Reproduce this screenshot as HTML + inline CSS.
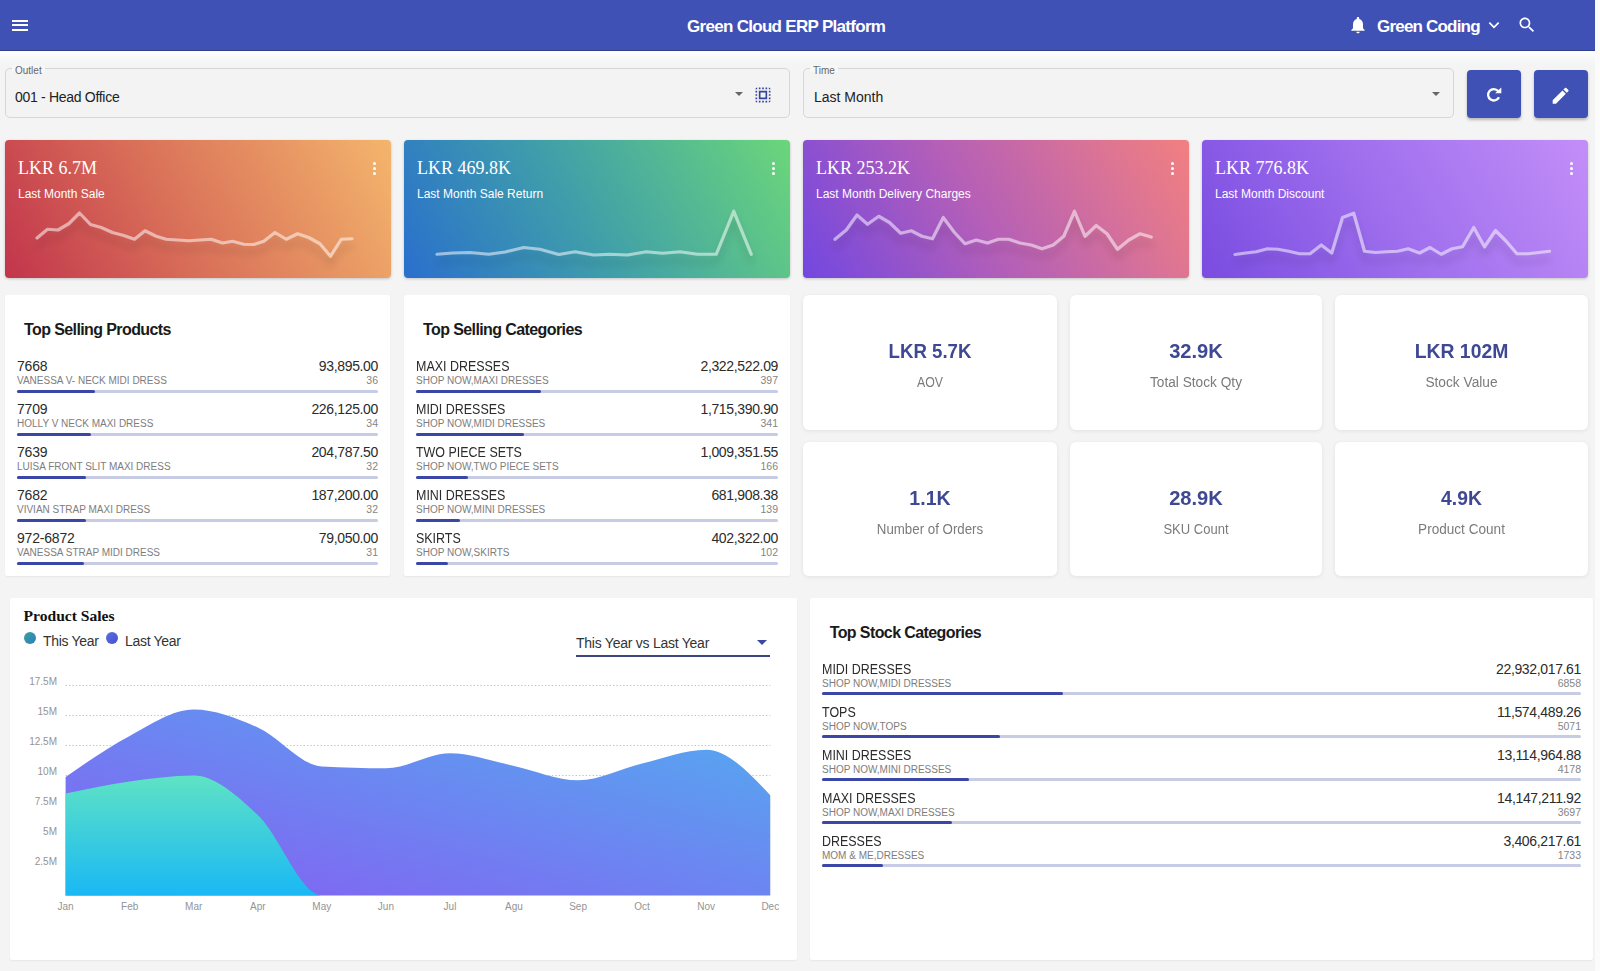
<!DOCTYPE html>
<html><head><meta charset="utf-8"><title>Green Cloud ERP Platform</title><style>
*{box-sizing:border-box;margin:0;padding:0}
html,body{width:1600px;height:971px;overflow:hidden;background:#f4f4f4;font-family:"Liberation Sans", sans-serif;}
.abs{position:absolute}
.hdr{left:0;top:0;width:1595px;height:51px;background:#3f51b5;box-shadow:inset 0 -1px 0 rgba(0,0,0,.22)}
.rstrip{left:1595px;top:0;width:5px;height:971px;background:#fbfbfb}
.field{background:#f3f3f3;border:1px solid #d6d6d6;border-radius:5px}
.flabel{font-size:10px;color:#666;background:linear-gradient(#f7f7f7 0 55%,#f3f3f3 55%);padding:0 3px}
.btn{background:#3f51b5;border-radius:4px;box-shadow:0 2px 3px rgba(0,0,0,.25)}
.gcard{border-radius:4px;box-shadow:0 1px 3px rgba(0,0,0,.2);overflow:hidden}
.gval{font-family:"Liberation Serif", serif;font-size:18px;color:#fff;white-space:nowrap}
.glab{font-size:12px;color:#fff;white-space:nowrap}
.panel{background:#fff;border-radius:2px;box-shadow:0 1px 2px rgba(0,0,0,.06)}
.scard{background:#fff;border-radius:6px;box-shadow:0 1px 4px rgba(0,0,0,.08)}
.sval{font-size:21px;font-weight:bold;color:#3f4892;white-space:nowrap;text-align:center}
.slab{font-size:14px;color:#7b7b7b;white-space:nowrap;text-align:center}
.ptitle{font-size:16px;font-weight:bold;color:#1a1a1a;white-space:nowrap;letter-spacing:-0.6px}
.rname{font-size:14px;color:#2b2b2b;white-space:nowrap;letter-spacing:-0.2px}
.rsub{font-size:10px;color:#7d7d7d;white-space:nowrap}
.rval{font-size:14px;color:#2b2b2b;white-space:nowrap;text-align:right;letter-spacing:-0.35px}
.rcnt{font-size:10.5px;color:#858585;white-space:nowrap;text-align:right}
.track{height:3px;background:#c7cbe3;border-radius:2px}
.fill{height:3px;background:#3a47a6;border-radius:2px}
</style></head>
<body>
<div class="abs" style="left:0;top:51px;width:1595px;height:14px;background:linear-gradient(#ffffff,#f9f9f9 40%,#f4f4f4)"></div>
<div class="abs hdr"></div>
<div class="abs rstrip"></div>
<div class="abs" style="left:12px;top:20px;width:16px;height:2px;background:#fff"></div>
<div class="abs" style="left:12px;top:24px;width:16px;height:2px;background:#fff"></div>
<div class="abs" style="left:12px;top:28.5px;width:16px;height:2px;background:#fff"></div>
<div class="abs" style="left:687px;top:16.5px;font-size:17px;font-weight:bold;color:#fff;letter-spacing:-0.7px;white-space:nowrap;line-height:20px">Green Cloud ERP Platform</div>
<svg class="abs" style="left:1348px;top:15px" width="20" height="20" viewBox="0 0 24 24"><path fill="#fff" d="M12 22c1.1 0 2-.9 2-2h-4c0 1.1.9 2 2 2zm6-6v-5c0-3.07-1.63-5.64-4.5-6.32V4c0-.83-.67-1.5-1.5-1.5s-1.5.67-1.5 1.5v.68C7.64 5.36 6 7.92 6 11v5l-2 2v1h16v-1l-2-2z"/></svg>
<div class="abs" style="left:1377px;top:16.5px;font-size:17px;font-weight:bold;color:#fff;letter-spacing:-0.8px;white-space:nowrap;line-height:20px">Green Coding</div>
<svg class="abs" style="left:1486px;top:17.3px" width="16" height="16" viewBox="0 0 24 24"><path fill="none" stroke="#fff" stroke-width="2.6" d="M5 8.5l7 7 7-7"/></svg>
<svg class="abs" style="left:1517px;top:15px" width="20" height="20" viewBox="0 0 24 24"><path fill="#fff" d="M15.5 14h-.79l-.28-.27C15.41 12.59 16 11.11 16 9.5 16 5.91 13.09 3 9.5 3S3 5.91 3 9.5 5.91 16 9.5 16c1.61 0 3.09-.59 4.23-1.57l.27.28v.79l5 4.99L20.49 19l-4.99-5zm-6 0C7.01 14 5 11.99 5 9.5S7.01 5 9.5 5 14 7.01 14 9.5 11.99 14 9.5 14z"/></svg>
<div class="abs field" style="left:5px;top:68px;width:785px;height:50px"></div>
<div class="abs flabel" style="left:12px;top:65px;line-height:12px">Outlet</div>
<div class="abs" style="left:15px;top:89px;font-size:14px;color:#222;letter-spacing:-0.3px;white-space:nowrap;line-height:17px">001 - Head Office</div>
<svg class="abs" style="left:735px;top:92px" width="8" height="4" viewBox="0 0 10 5"><path fill="#666" d="M0 0h10L5 5z"/></svg>
<svg class="abs" style="left:752.5px;top:84.5px" width="20" height="20" viewBox="0 0 24 24"><path fill="#34449f" d="M3 5h2V3c-1.1 0-2 .9-2 2zm0 8h2v-2H3v2zm4 8h2v-2H7v2zM3 9h2V7H3v2zm10-6h-2v2h2V3zm6 0v2h2c0-1.1-.9-2-2-2zM5 21v-2H3c0 1.1.9 2 2 2zm-2-4h2v-2H3v2zM9 3H7v2h2V3zm2 18h2v-2h-2v2zm8-8h2v-2h-2v2zm0 8c1.1 0 2-.9 2-2h-2v2zm0-12h2V7h-2v2zm0 8h2v-2h-2v2zm-4 4h2v-2h-2v2zm0-16h2V3h-2v2zM7 17h10V7H7v10zm2-8h6v6H9V9z"/></svg>
<div class="abs field" style="left:803px;top:68px;width:651px;height:50px"></div>
<div class="abs flabel" style="left:810px;top:65px;line-height:12px">Time</div>
<div class="abs" style="left:814px;top:89px;font-size:14px;color:#222;white-space:nowrap;line-height:17px">Last Month</div>
<svg class="abs" style="left:1432px;top:92px" width="8" height="4" viewBox="0 0 10 5"><path fill="#666" d="M0 0h10L5 5z"/></svg>
<div class="abs btn" style="left:1467px;top:70px;width:54px;height:48px"></div>
<svg class="abs" style="left:1480px;top:80px" width="30" height="30" viewBox="0 0 30 30"><path d="M18.17,11.09 A5.7,5.7 0 1 0 18.97,17.16" fill="none" stroke="#fff" stroke-width="2.3"/><path fill="#fff" d="M15.1,13.3 L21.3,13.3 L21.3,7.4 Z"/></svg>
<div class="abs btn" style="left:1534px;top:70px;width:54px;height:48px"></div>
<svg class="abs" style="left:1550.3px;top:84.6px" width="21.3" height="21.3" viewBox="0 0 24 24"><path fill="#fff" d="M3 17.25V21h3.75L17.81 9.94l-3.75-3.75L3 17.25zM20.71 7.04c.39-.39.39-1.02 0-1.41l-2.34-2.34c-.39-.39-1.02-.39-1.41 0l-1.83 1.83 3.75 3.75 1.83-1.83z"/></svg>
<div class="abs gcard" style="left:5px;top:140px;width:386px;height:138px;background:linear-gradient(62deg,#c2354c 0%,#d86e58 42%,#f4b56c 100%)"></div>
<div class="abs gval" style="left:18px;top:157px;line-height:22px">LKR 6.7M</div>
<div class="abs glab" style="left:18px;top:187px;line-height:15px">Last Month Sale</div>
<div class="abs" style="left:373px;top:162px;width:3px;height:3px;border-radius:50%;background:#fff"></div>
<div class="abs" style="left:373px;top:167px;width:3px;height:3px;border-radius:50%;background:#fff"></div>
<div class="abs" style="left:373px;top:172px;width:3px;height:3px;border-radius:50%;background:#fff"></div>
<div class="abs gcard" style="left:404px;top:140px;width:386px;height:138px;background:linear-gradient(60deg,#2a6fcd 0%,#3f9eaa 45%,#6bd67a 100%)"></div>
<div class="abs gval" style="left:417px;top:157px;line-height:22px">LKR 469.8K</div>
<div class="abs glab" style="left:417px;top:187px;line-height:15px">Last Month Sale Return</div>
<div class="abs" style="left:772px;top:162px;width:3px;height:3px;border-radius:50%;background:#fff"></div>
<div class="abs" style="left:772px;top:167px;width:3px;height:3px;border-radius:50%;background:#fff"></div>
<div class="abs" style="left:772px;top:172px;width:3px;height:3px;border-radius:50%;background:#fff"></div>
<div class="abs gcard" style="left:803px;top:140px;width:386px;height:138px;background:linear-gradient(60deg,#7247e0 0%,#b45fb8 45%,#f28080 100%)"></div>
<div class="abs gval" style="left:816px;top:157px;line-height:22px">LKR 253.2K</div>
<div class="abs glab" style="left:816px;top:187px;line-height:15px">Last Month Delivery Charges</div>
<div class="abs" style="left:1171px;top:162px;width:3px;height:3px;border-radius:50%;background:#fff"></div>
<div class="abs" style="left:1171px;top:167px;width:3px;height:3px;border-radius:50%;background:#fff"></div>
<div class="abs" style="left:1171px;top:172px;width:3px;height:3px;border-radius:50%;background:#fff"></div>
<div class="abs gcard" style="left:1202px;top:140px;width:386px;height:138px;background:linear-gradient(60deg,#7a4ce0 0%,#a070ee 50%,#c38ef8 100%)"></div>
<div class="abs gval" style="left:1215px;top:157px;line-height:22px">LKR 776.8K</div>
<div class="abs glab" style="left:1215px;top:187px;line-height:15px">Last Month Discount</div>
<div class="abs" style="left:1570px;top:162px;width:3px;height:3px;border-radius:50%;background:#fff"></div>
<div class="abs" style="left:1570px;top:167px;width:3px;height:3px;border-radius:50%;background:#fff"></div>
<div class="abs" style="left:1570px;top:172px;width:3px;height:3px;border-radius:50%;background:#fff"></div>
<svg class="abs" style="left:0;top:0" width="1600" height="300" viewBox="0 0 1600 300"><defs><filter id="sh" x="-10%" y="-50%" width="120%" height="250%"><feGaussianBlur in="SourceAlpha" stdDeviation="4"/><feOffset dy="8"/><feComponentTransfer><feFuncA type="linear" slope="0.32"/></feComponentTransfer><feMerge><feMergeNode/><feMergeNode in="SourceGraphic"/></feMerge></filter></defs><polyline points="37.00,238.00 47.50,229.25 58.00,230.00 68.75,223.75 79.50,213.00 90.50,224.50 101.25,227.50 112.50,232.50 123.75,235.50 134.50,239.25 145.00,230.75 156.25,236.25 166.25,239.25 177.50,240.00 188.75,240.75 200.00,240.00 211.25,239.25 222.50,243.00 232.50,241.25 243.75,244.25 253.75,244.50 263.75,241.25 275.00,232.50 286.25,239.25 297.50,233.75 308.75,237.50 320.00,243.75 330.50,256.25 341.25,239.25 352.00,238.75" fill="none" stroke="rgba(255,255,255,0.52)" stroke-width="3.2" stroke-linejoin="round" stroke-linecap="round" filter="url(#sh)"/><polyline points="437.00,254.25 452.50,253.00 470.00,252.50 488.75,254.25 505.00,252.00 523.75,247.50 540.00,249.25 558.75,254.50 575.00,251.75 593.75,255.00 610.00,254.25 627.50,255.00 646.25,251.75 662.50,253.25 680.00,251.75 697.50,254.25 716.25,254.25 733.75,211.25 751.25,254.25" fill="none" stroke="rgba(255,255,255,0.52)" stroke-width="3.2" stroke-linejoin="round" stroke-linecap="round" filter="url(#sh)"/><polyline points="835.00,239.25 846.25,230.00 857.00,215.00 867.50,224.25 878.75,216.25 889.50,222.50 900.75,233.25 911.25,230.75 922.00,236.25 932.50,238.75 943.25,217.50 954.50,232.50 965.00,243.75 976.25,240.00 987.50,243.00 998.25,239.25 1008.75,239.25 1020.00,243.00 1031.25,245.00 1042.00,248.75 1053.25,245.00 1063.75,236.25 1074.50,211.25 1085.00,236.25 1096.25,225.50 1107.00,233.75 1117.50,249.25 1128.75,240.00 1140.00,233.75 1151.25,237.00" fill="none" stroke="rgba(255,255,255,0.52)" stroke-width="3.2" stroke-linejoin="round" stroke-linecap="round" filter="url(#sh)"/><polyline points="1235.00,254.50 1245.75,253.00 1256.25,251.75 1267.50,248.75 1278.00,249.25 1288.75,251.25 1299.50,253.75 1310.00,253.75 1321.25,245.00 1331.75,253.00 1342.50,217.50 1353.75,213.25 1364.50,251.25 1375.50,252.50 1386.25,251.75 1397.50,251.25 1408.25,248.75 1419.50,253.00 1430.00,247.50 1441.25,254.25 1452.00,248.75 1462.50,246.75 1473.75,227.50 1484.50,246.75 1495.50,230.50 1506.25,241.25 1517.00,253.75 1528.00,253.75 1538.75,252.50 1549.50,251.25" fill="none" stroke="rgba(255,255,255,0.52)" stroke-width="3.2" stroke-linejoin="round" stroke-linecap="round" filter="url(#sh)"/></svg>
<div class="abs panel" style="left:5px;top:295px;width:385px;height:281px"></div>
<div class="abs ptitle" style="left:24px;top:320px;line-height:19px">Top Selling Products</div>
<div class="abs rname" style="left:17px;top:357.6px;line-height:16px;">7668</div>
<div class="abs rsub" style="left:17px;top:375.1px;line-height:12px">VANESSA V- NECK MIDI DRESS</div>
<div class="abs rval" style="right:1222px;top:357.6px;line-height:16px">93,895.00</div>
<div class="abs rcnt" style="right:1222px;top:374.20000000000005px;line-height:12px">36</div>
<div class="abs track" style="left:17px;top:389.8px;width:361px"></div>
<div class="abs fill" style="left:17px;top:389.8px;width:78.0px"></div>
<div class="abs rname" style="left:17px;top:400.6px;line-height:16px;">7709</div>
<div class="abs rsub" style="left:17px;top:418.1px;line-height:12px">HOLLY V NECK MAXI DRESS</div>
<div class="abs rval" style="right:1222px;top:400.6px;line-height:16px">226,125.00</div>
<div class="abs rcnt" style="right:1222px;top:417.20000000000005px;line-height:12px">34</div>
<div class="abs track" style="left:17px;top:432.8px;width:361px"></div>
<div class="abs fill" style="left:17px;top:432.8px;width:73.6px"></div>
<div class="abs rname" style="left:17px;top:443.6px;line-height:16px;">7639</div>
<div class="abs rsub" style="left:17px;top:461.1px;line-height:12px">LUISA FRONT SLIT MAXI DRESS</div>
<div class="abs rval" style="right:1222px;top:443.6px;line-height:16px">204,787.50</div>
<div class="abs rcnt" style="right:1222px;top:460.20000000000005px;line-height:12px">32</div>
<div class="abs track" style="left:17px;top:475.8px;width:361px"></div>
<div class="abs fill" style="left:17px;top:475.8px;width:69.3px"></div>
<div class="abs rname" style="left:17px;top:486.6px;line-height:16px;">7682</div>
<div class="abs rsub" style="left:17px;top:504.1px;line-height:12px">VIVIAN STRAP MAXI DRESS</div>
<div class="abs rval" style="right:1222px;top:486.6px;line-height:16px">187,200.00</div>
<div class="abs rcnt" style="right:1222px;top:503.20000000000005px;line-height:12px">32</div>
<div class="abs track" style="left:17px;top:518.8000000000001px;width:361px"></div>
<div class="abs fill" style="left:17px;top:518.8000000000001px;width:69.3px"></div>
<div class="abs rname" style="left:17px;top:529.6px;line-height:16px;">972-6872</div>
<div class="abs rsub" style="left:17px;top:547.1px;line-height:12px">VANESSA STRAP MIDI DRESS</div>
<div class="abs rval" style="right:1222px;top:529.6px;line-height:16px">79,050.00</div>
<div class="abs rcnt" style="right:1222px;top:546.2px;line-height:12px">31</div>
<div class="abs track" style="left:17px;top:561.8000000000001px;width:361px"></div>
<div class="abs fill" style="left:17px;top:561.8000000000001px;width:67.1px"></div>
<div class="abs panel" style="left:404px;top:295px;width:386px;height:281px"></div>
<div class="abs ptitle" style="left:423px;top:320px;line-height:19px">Top Selling Categories</div>
<div class="abs rname" style="left:416px;top:357.6px;line-height:16px;transform:scaleX(0.89);transform-origin:0 0;letter-spacing:0">MAXI DRESSES</div>
<div class="abs rsub" style="left:416px;top:375.1px;line-height:12px">SHOP NOW,MAXI DRESSES</div>
<div class="abs rval" style="right:822px;top:357.6px;line-height:16px">2,322,522.09</div>
<div class="abs rcnt" style="right:822px;top:374.20000000000005px;line-height:12px">397</div>
<div class="abs track" style="left:416px;top:389.8px;width:362px"></div>
<div class="abs fill" style="left:416px;top:389.8px;width:125.3px"></div>
<div class="abs rname" style="left:416px;top:400.6px;line-height:16px;transform:scaleX(0.89);transform-origin:0 0;letter-spacing:0">MIDI DRESSES</div>
<div class="abs rsub" style="left:416px;top:418.1px;line-height:12px">SHOP NOW,MIDI DRESSES</div>
<div class="abs rval" style="right:822px;top:400.6px;line-height:16px">1,715,390.90</div>
<div class="abs rcnt" style="right:822px;top:417.20000000000005px;line-height:12px">341</div>
<div class="abs track" style="left:416px;top:432.8px;width:362px"></div>
<div class="abs fill" style="left:416px;top:432.8px;width:107.5px"></div>
<div class="abs rname" style="left:416px;top:443.6px;line-height:16px;transform:scaleX(0.89);transform-origin:0 0;letter-spacing:0">TWO PIECE SETS</div>
<div class="abs rsub" style="left:416px;top:461.1px;line-height:12px">SHOP NOW,TWO PIECE SETS</div>
<div class="abs rval" style="right:822px;top:443.6px;line-height:16px">1,009,351.55</div>
<div class="abs rcnt" style="right:822px;top:460.20000000000005px;line-height:12px">166</div>
<div class="abs track" style="left:416px;top:475.8px;width:362px"></div>
<div class="abs fill" style="left:416px;top:475.8px;width:52.1px"></div>
<div class="abs rname" style="left:416px;top:486.6px;line-height:16px;transform:scaleX(0.89);transform-origin:0 0;letter-spacing:0">MINI DRESSES</div>
<div class="abs rsub" style="left:416px;top:504.1px;line-height:12px">SHOP NOW,MINI DRESSES</div>
<div class="abs rval" style="right:822px;top:486.6px;line-height:16px">681,908.38</div>
<div class="abs rcnt" style="right:822px;top:503.20000000000005px;line-height:12px">139</div>
<div class="abs track" style="left:416px;top:518.8000000000001px;width:362px"></div>
<div class="abs fill" style="left:416px;top:518.8000000000001px;width:43.8px"></div>
<div class="abs rname" style="left:416px;top:529.6px;line-height:16px;transform:scaleX(0.89);transform-origin:0 0;letter-spacing:0">SKIRTS</div>
<div class="abs rsub" style="left:416px;top:547.1px;line-height:12px">SHOP NOW,SKIRTS</div>
<div class="abs rval" style="right:822px;top:529.6px;line-height:16px">402,322.00</div>
<div class="abs rcnt" style="right:822px;top:546.2px;line-height:12px">102</div>
<div class="abs track" style="left:416px;top:561.8000000000001px;width:362px"></div>
<div class="abs fill" style="left:416px;top:561.8000000000001px;width:31.9px"></div>
<div class="abs scard" style="left:803px;top:295px;width:254px;height:135px"></div>
<div class="abs sval" style="left:803px;top:340.5px;width:254px;line-height:20px;transform:scaleX(0.889)">LKR 5.7K</div>
<div class="abs slab" style="left:803px;top:373.5px;width:254px;line-height:17px;transform:scaleX(0.88)">AOV</div>
<div class="abs scard" style="left:1070px;top:295px;width:252px;height:135px"></div>
<div class="abs sval" style="left:1070px;top:340.5px;width:252px;line-height:20px;transform:scaleX(0.958)">32.9K</div>
<div class="abs slab" style="left:1070px;top:373.5px;width:252px;line-height:17px;transform:scaleX(0.977)">Total Stock Qty</div>
<div class="abs scard" style="left:1335px;top:295px;width:253px;height:135px"></div>
<div class="abs sval" style="left:1335px;top:340.5px;width:253px;line-height:20px;transform:scaleX(0.922)">LKR 102M</div>
<div class="abs slab" style="left:1335px;top:373.5px;width:253px;line-height:17px;transform:scaleX(0.98)">Stock Value</div>
<div class="abs scard" style="left:803px;top:442px;width:254px;height:134px"></div>
<div class="abs sval" style="left:803px;top:487.5px;width:254px;line-height:20px;transform:scaleX(0.93)">1.1K</div>
<div class="abs slab" style="left:803px;top:520.5px;width:254px;line-height:17px;transform:scaleX(0.95)">Number of Orders</div>
<div class="abs scard" style="left:1070px;top:442px;width:252px;height:134px"></div>
<div class="abs sval" style="left:1070px;top:487.5px;width:252px;line-height:20px;transform:scaleX(0.958)">28.9K</div>
<div class="abs slab" style="left:1070px;top:520.5px;width:252px;line-height:17px;transform:scaleX(0.93)">SKU Count</div>
<div class="abs scard" style="left:1335px;top:442px;width:253px;height:134px"></div>
<div class="abs sval" style="left:1335px;top:487.5px;width:253px;line-height:20px;transform:scaleX(0.92)">4.9K</div>
<div class="abs slab" style="left:1335px;top:520.5px;width:253px;line-height:17px;transform:scaleX(0.97)">Product Count</div>
<div class="abs panel" style="left:10px;top:598px;width:787px;height:362px"></div>
<div class="abs" style="left:23.5px;top:605.5px;font-family:Liberation Serif,serif;font-size:15.6px;font-weight:bold;color:#111;white-space:nowrap;line-height:19px">Product Sales</div>
<div class="abs" style="left:24px;top:632px;width:12px;height:12px;border-radius:50%;background:linear-gradient(135deg,#3aa0a0,#2f7fb8)"></div>
<div class="abs" style="left:43px;top:633px;font-size:14px;color:#333;white-space:nowrap;line-height:17px;letter-spacing:-0.3px">This Year</div>
<div class="abs" style="left:106px;top:632px;width:12px;height:12px;border-radius:50%;background:linear-gradient(135deg,#5a6ee0,#4a4fd0)"></div>
<div class="abs" style="left:125px;top:633px;font-size:14px;color:#333;white-space:nowrap;line-height:17px;letter-spacing:-0.3px">Last Year</div>
<div class="abs" style="left:576px;top:635px;font-size:14px;color:#333;white-space:nowrap;line-height:17px;letter-spacing:-0.25px">This Year vs Last Year</div>
<svg class="abs" style="left:757px;top:640px" width="10" height="5" viewBox="0 0 10 5"><path fill="#3a47a6" d="M0 0h10L5 5z"/></svg>
<div class="abs" style="left:576px;top:655px;width:194px;height:2px;background:#3d4580"></div>
<svg class="abs" style="left:0;top:0" width="1600" height="971" viewBox="0 0 1600 971"><defs><linearGradient id="gl" x1="0" y1="1" x2="1" y2="0"><stop offset="0" stop-color="#875cf2"/><stop offset="1" stop-color="#52adf0"/></linearGradient><linearGradient id="gt" x1="0" y1="1" x2="0" y2="0"><stop offset="0" stop-color="#1ab8f5"/><stop offset="1" stop-color="#5ee3c4"/></linearGradient></defs><line x1="65.6" y1="865.5" x2="770.2600000000001" y2="865.5" stroke="#c4c4c4" stroke-width="1" stroke-dasharray="1.4 2"/><line x1="65.6" y1="835.5" x2="770.2600000000001" y2="835.5" stroke="#c4c4c4" stroke-width="1" stroke-dasharray="1.4 2"/><line x1="65.6" y1="805.5" x2="770.2600000000001" y2="805.5" stroke="#c4c4c4" stroke-width="1" stroke-dasharray="1.4 2"/><line x1="65.6" y1="775.5" x2="770.2600000000001" y2="775.5" stroke="#c4c4c4" stroke-width="1" stroke-dasharray="1.4 2"/><line x1="65.6" y1="745.5" x2="770.2600000000001" y2="745.5" stroke="#c4c4c4" stroke-width="1" stroke-dasharray="1.4 2"/><line x1="65.6" y1="715.5" x2="770.2600000000001" y2="715.5" stroke="#c4c4c4" stroke-width="1" stroke-dasharray="1.4 2"/><line x1="65.6" y1="685.5" x2="770.2600000000001" y2="685.5" stroke="#c4c4c4" stroke-width="1" stroke-dasharray="1.4 2"/><path d="M65.60,777.06C86.95,762.11 108.31,747.16 129.66,735.90C151.01,724.64 172.37,709.50 193.72,709.50C215.07,709.50 236.43,718.00 257.78,727.50C279.13,737.00 300.49,765.30 321.84,766.50C343.19,767.70 364.55,768.30 385.90,768.30C407.25,768.30 428.61,753.18 449.96,753.18C471.31,753.18 492.67,761.38 514.02,765.90C535.37,770.42 556.73,780.30 578.08,780.30C599.43,780.30 620.79,768.60 642.14,763.50C663.49,758.40 684.85,749.70 706.20,749.70C727.55,749.70 748.91,772.44 770.26,795.18 L770.26,895.5 L65.6,895.5 Z" fill="url(#gl)"/><path d="M65.60,793.50C86.95,789.00 108.31,784.50 129.66,781.50C151.01,778.50 172.37,775.50 193.72,775.50C215.07,775.50 236.43,795.10 257.78,815.10C279.13,835.10 300.49,895.50 321.84,895.50C343.19,895.50 364.55,895.50 385.90,895.50C407.25,895.50 428.61,895.50 449.96,895.50C471.31,895.50 492.67,895.50 514.02,895.50C535.37,895.50 556.73,895.50 578.08,895.50C599.43,895.50 620.79,895.50 642.14,895.50C663.49,895.50 684.85,895.50 706.20,895.50C727.55,895.50 748.91,895.50 770.26,895.50 L770.26,895.5 L65.6,895.5 Z" fill="url(#gt)"/><text x="57" y="684.7" text-anchor="end" font-family="Liberation Sans" font-size="10" fill="#949494">17.5M</text><text x="57" y="714.7" text-anchor="end" font-family="Liberation Sans" font-size="10" fill="#949494">15M</text><text x="57" y="744.7" text-anchor="end" font-family="Liberation Sans" font-size="10" fill="#949494">12.5M</text><text x="57" y="774.7" text-anchor="end" font-family="Liberation Sans" font-size="10" fill="#949494">10M</text><text x="57" y="804.7" text-anchor="end" font-family="Liberation Sans" font-size="10" fill="#949494">7.5M</text><text x="57" y="834.7" text-anchor="end" font-family="Liberation Sans" font-size="10" fill="#949494">5M</text><text x="57" y="864.7" text-anchor="end" font-family="Liberation Sans" font-size="10" fill="#949494">2.5M</text><text x="65.6" y="910" text-anchor="middle" font-family="Liberation Sans" font-size="10" fill="#949494">Jan</text><text x="129.7" y="910" text-anchor="middle" font-family="Liberation Sans" font-size="10" fill="#949494">Feb</text><text x="193.7" y="910" text-anchor="middle" font-family="Liberation Sans" font-size="10" fill="#949494">Mar</text><text x="257.8" y="910" text-anchor="middle" font-family="Liberation Sans" font-size="10" fill="#949494">Apr</text><text x="321.8" y="910" text-anchor="middle" font-family="Liberation Sans" font-size="10" fill="#949494">May</text><text x="385.9" y="910" text-anchor="middle" font-family="Liberation Sans" font-size="10" fill="#949494">Jun</text><text x="450.0" y="910" text-anchor="middle" font-family="Liberation Sans" font-size="10" fill="#949494">Jul</text><text x="514.0" y="910" text-anchor="middle" font-family="Liberation Sans" font-size="10" fill="#949494">Agu</text><text x="578.1" y="910" text-anchor="middle" font-family="Liberation Sans" font-size="10" fill="#949494">Sep</text><text x="642.1" y="910" text-anchor="middle" font-family="Liberation Sans" font-size="10" fill="#949494">Oct</text><text x="706.2" y="910" text-anchor="middle" font-family="Liberation Sans" font-size="10" fill="#949494">Nov</text><text x="770.3" y="910" text-anchor="middle" font-family="Liberation Sans" font-size="10" fill="#949494">Dec</text></svg>
<div class="abs panel" style="left:810px;top:598px;width:783px;height:362px"></div>
<div class="abs ptitle" style="left:829.7px;top:622.7px;line-height:19px">Top Stock Categories</div>
<div class="abs rname" style="left:822px;top:660.7px;line-height:16px;transform:scaleX(0.89);transform-origin:0 0;letter-spacing:0">MIDI DRESSES</div>
<div class="abs rsub" style="left:822px;top:678.2px;line-height:12px">SHOP NOW,MIDI DRESSES</div>
<div class="abs rval" style="right:19px;top:660.7px;line-height:16px">22,932,017.61</div>
<div class="abs rcnt" style="right:19px;top:677.3000000000001px;line-height:12px">6858</div>
<div class="abs track" style="left:822px;top:692.2px;width:759px"></div>
<div class="abs fill" style="left:822px;top:692.2px;width:241.4px"></div>
<div class="abs rname" style="left:822px;top:703.7px;line-height:16px;transform:scaleX(0.89);transform-origin:0 0;letter-spacing:0">TOPS</div>
<div class="abs rsub" style="left:822px;top:721.2px;line-height:12px">SHOP NOW,TOPS</div>
<div class="abs rval" style="right:19px;top:703.7px;line-height:16px">11,574,489.26</div>
<div class="abs rcnt" style="right:19px;top:720.3000000000001px;line-height:12px">5071</div>
<div class="abs track" style="left:822px;top:735.2px;width:759px"></div>
<div class="abs fill" style="left:822px;top:735.2px;width:177.6px"></div>
<div class="abs rname" style="left:822px;top:746.7px;line-height:16px;transform:scaleX(0.89);transform-origin:0 0;letter-spacing:0">MINI DRESSES</div>
<div class="abs rsub" style="left:822px;top:764.2px;line-height:12px">SHOP NOW,MINI DRESSES</div>
<div class="abs rval" style="right:19px;top:746.7px;line-height:16px">13,114,964.88</div>
<div class="abs rcnt" style="right:19px;top:763.3000000000001px;line-height:12px">4178</div>
<div class="abs track" style="left:822px;top:778.2px;width:759px"></div>
<div class="abs fill" style="left:822px;top:778.2px;width:146.5px"></div>
<div class="abs rname" style="left:822px;top:789.7px;line-height:16px;transform:scaleX(0.89);transform-origin:0 0;letter-spacing:0">MAXI DRESSES</div>
<div class="abs rsub" style="left:822px;top:807.2px;line-height:12px">SHOP NOW,MAXI DRESSES</div>
<div class="abs rval" style="right:19px;top:789.7px;line-height:16px">14,147,211.92</div>
<div class="abs rcnt" style="right:19px;top:806.3000000000001px;line-height:12px">3697</div>
<div class="abs track" style="left:822px;top:821.2px;width:759px"></div>
<div class="abs fill" style="left:822px;top:821.2px;width:129.8px"></div>
<div class="abs rname" style="left:822px;top:832.7px;line-height:16px;transform:scaleX(0.89);transform-origin:0 0;letter-spacing:0">DRESSES</div>
<div class="abs rsub" style="left:822px;top:850.2px;line-height:12px">MOM & ME,DRESSES</div>
<div class="abs rval" style="right:19px;top:832.7px;line-height:16px">3,406,217.61</div>
<div class="abs rcnt" style="right:19px;top:849.3000000000001px;line-height:12px">1733</div>
<div class="abs track" style="left:822px;top:864.2px;width:759px"></div>
<div class="abs fill" style="left:822px;top:864.2px;width:60.7px"></div>
</body></html>
